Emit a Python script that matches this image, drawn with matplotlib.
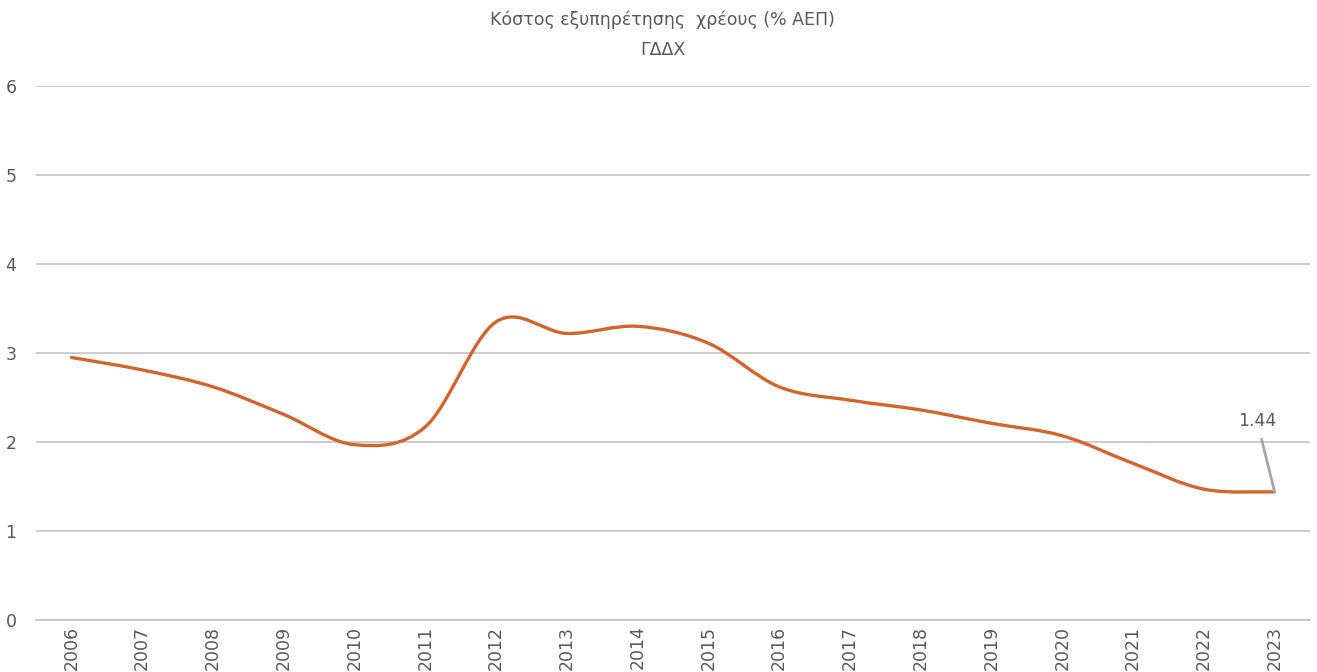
import matplotlib
matplotlib.use("Agg")
import matplotlib.pyplot as plt
from matplotlib.path import Path
from matplotlib.patches import PathPatch
import numpy as np

# ── data ────────────────────────────────────────────────────────────────────
years = ["2006", "2007", "2008", "2009", "2010", "2011", "2012", "2013", "2014",
         "2015", "2016", "2017", "2018", "2019", "2020", "2021", "2022", "2023"]
debt_cost = [2.95, 2.81, 2.62, 2.31, 1.97, 2.17, 3.35, 3.22, 3.30,
             3.11, 2.62, 2.47, 2.36, 2.21, 2.07, 1.76, 1.47, 1.44]
y_ticks = [0, 1, 2, 3, 4, 5, 6]

title = "Κόστος εξυπηρέτησης  χρέους (% ΑΕΠ)\nΓΔΔΧ"
text_col = "#595959"
line_col = "#D2642E"


def smooth_path(xs, ys):
    """Excel-style smoothed line: cubic Bezier through each point."""
    pts = np.column_stack([xs, ys]).astype(float)
    n = len(pts)
    verts = [pts[0]]
    codes = [Path.MOVETO]
    for i in range(n - 1):
        p0 = pts[i - 1] if i > 0 else pts[i]
        p1 = pts[i]
        p2 = pts[i + 1]
        p3 = pts[i + 2] if i + 2 < n else pts[i + 1]
        c1 = p1 + (p2 - p0) / 6.0
        c2 = p2 - (p3 - p1) / 6.0
        verts += [c1, c2, p2]
        codes += [Path.CURVE4] * 3
    return Path(verts, codes)


fig = plt.figure(figsize=(13.17, 6.72), dpi=100)
ax = fig.add_axes([0.0273, 0.0774, 0.9674, 0.7946])

x = np.arange(len(years))
ax.add_patch(PathPatch(smooth_path(x, debt_cost), fill=False,
                       edgecolor=line_col, lw=2.4, zorder=3,
                       capstyle="round", joinstyle="round"))

ax.set_xlim(-0.5, len(years) - 0.5)
ax.set_ylim(0, 6)
ax.set_yticks(y_ticks)
ax.set_xticks(x)
ax.set_xticklabels(years, rotation=90)
ax.tick_params(axis="both", length=0, labelsize=12.5, colors=text_col)
ax.tick_params(axis="y", pad=14)
ax.tick_params(axis="x", pad=4)

ax.grid(axis="y", color="#BFBFBF", lw=1.1)
ax.set_axisbelow(True)
for s in ["top", "right", "left"]:
    ax.spines[s].set_visible(False)
ax.spines["bottom"].set_color("#BFBFBF")
ax.spines["bottom"].set_linewidth(1.1)

# last-value label with leader line
last = len(years) - 1
ax.annotate(f"{debt_cost[-1]:.2f}", xy=(last, debt_cost[-1]),
            xytext=(last - 0.25, 2.24), ha="center", va="center",
            fontsize=12.5, color=text_col,
            arrowprops=dict(arrowstyle="-", color="#A6A6A6", lw=2,
                            shrinkA=5, shrinkB=0))

fig.text(0.503, 0.948, title, ha="center", va="center", fontsize=12.5,
         color=text_col, linespacing=1.9)

fig.savefig("out.png", dpi=100)
